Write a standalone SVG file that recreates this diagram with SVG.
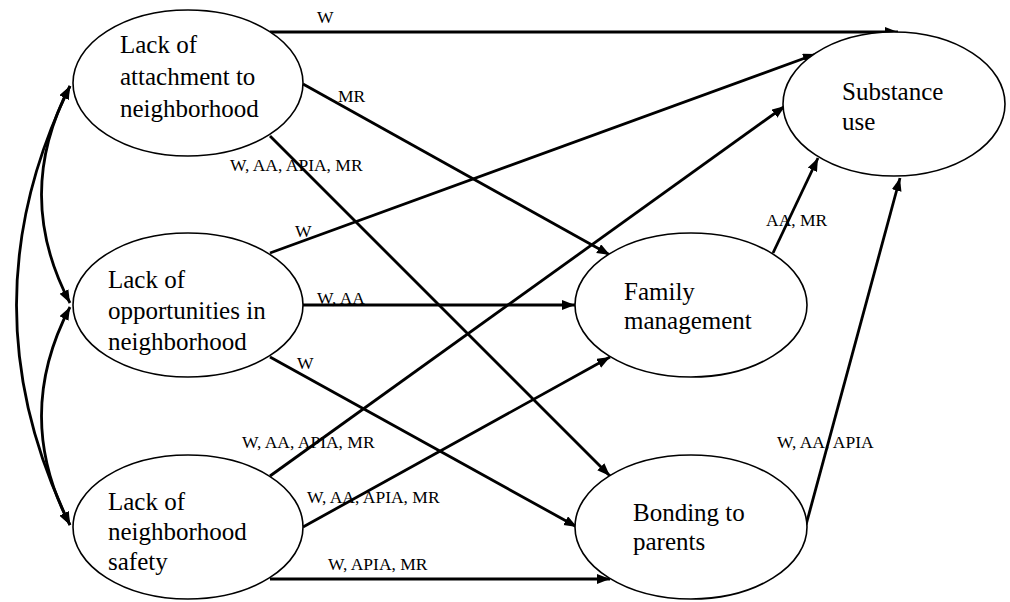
<svg xmlns="http://www.w3.org/2000/svg" width="1010" height="602" viewBox="0 0 1010 602">
<style>
.node{fill:#fff;stroke:#000;stroke-width:1.6}
.nt{font-family:"Liberation Serif","Times New Roman",serif;font-size:25px;fill:#000}
.lb{font-family:"Liberation Serif","Times New Roman",serif;font-size:17.5px;fill:#000}
.e{fill:none;stroke:#000;stroke-width:2.8;marker-end:url(#ah)}
.c{fill:none;stroke:#000;stroke-width:2.8;marker-start:url(#ah);marker-end:url(#ah)}
</style>
<defs>
<marker id="ah" markerUnits="userSpaceOnUse" markerWidth="15" markerHeight="11" refX="13" refY="5" orient="auto-start-reverse">
<path d="M0,0 L13,5 L0,10 z" fill="#000"/>
</marker>
</defs>
<rect width="1010" height="602" fill="#fff"/>
<g id="connectors">
<path class="c" d="M70,86 Q-37,305 70,525"/>
<path class="c" d="M70,86 Q13,195 70,303"/>
<path class="c" d="M70,307 Q13,416 70,525"/>
<path class="e" d="M270,32 L898,32"/>
<path class="e" d="M303,84 L610,255"/>
<path class="e" d="M270,136 L610,476"/>
<path class="e" d="M270,253 L816,54"/>
<path class="e" d="M303,305 L575,305"/>
<path class="e" d="M270,357 L577,527"/>
<path class="e" d="M270,476 L785,106"/>
<path class="e" d="M303,527 L610,357"/>
<path class="e" d="M270,579 L610,579"/>
<path class="e" d="M773,253 L818,158"/>
<path class="e" d="M806,525 L900,178"/>
<g id="labels">
<text class="lb" x="317" y="23">W</text>
<text class="lb" x="338" y="102">MR</text>
<text class="lb" x="230" y="171">W, AA, APIA, MR</text>
<text class="lb" x="295" y="237">W</text>
<text class="lb" x="317" y="304">W, AA</text>
<text class="lb" x="297" y="369">W</text>
<text class="lb" x="242" y="448">W, AA, APIA, MR</text>
<text class="lb" x="307" y="503">W, AA, APIA, MR</text>
<text class="lb" x="328" y="570">W, APIA, MR</text>
<text class="lb" x="766" y="226">AA, MR</text>
<text class="lb" x="777" y="448">W, AA, APIA</text>
</g>
</g>
<g id="attachment">
<ellipse class="node" cx="188" cy="83" rx="115" ry="73"/>
<text class="nt" x="120" y="53">Lack of</text>
<text class="nt" x="120" y="85">attachment to</text>
<text class="nt" x="120" y="117">neighborhood</text>
</g>
<g id="opportunities">
<ellipse class="node" cx="188" cy="305" rx="115" ry="72"/>
<text class="nt" x="108" y="288">Lack of</text>
<text class="nt" x="108" y="319">opportunities in</text>
<text class="nt" x="108" y="350">neighborhood</text>
</g>
<g id="safety">
<ellipse class="node" cx="188" cy="527" rx="115" ry="72"/>
<text class="nt" x="108" y="510">Lack of</text>
<text class="nt" x="108" y="540">neighborhood</text>
<text class="nt" x="108" y="570">safety</text>
</g>
<g id="substance">
<ellipse class="node" cx="894" cy="104" rx="111" ry="72"/>
<text class="nt" x="842" y="100">Substance</text>
<text class="nt" x="842" y="130">use</text>
</g>
<g id="family">
<ellipse class="node" cx="691" cy="305" rx="116" ry="72"/>
<text class="nt" x="624" y="300">Family</text>
<text class="nt" x="624" y="329">management</text>
</g>
<g id="bonding">
<ellipse class="node" cx="691" cy="527" rx="116" ry="72"/>
<text class="nt" x="633" y="521">Bonding to</text>
<text class="nt" x="633" y="550">parents</text>
</g>
</svg>
